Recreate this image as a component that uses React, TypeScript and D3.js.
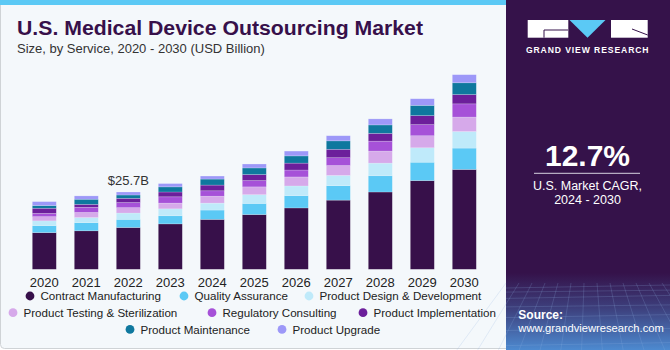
import React, { useEffect, useRef } from "react";
import * as d3 from "d3";

const years = ["2020", "2021", "2022", "2023", "2024", "2025", "2026", "2027", "2028", "2029", "2030"];
const contractManufacturing = [12.2, 12.8, 13.9, 15.1, 16.6, 18.2, 20.4, 23.0, 25.7, 29.5, 33.2];
const qualityAssurance = [2.3, 2.7, 2.7, 2.7, 3.1, 3.7, 4.1, 4.8, 5.4, 6.1, 7.1];
const productDesign = [1.6, 1.7, 2.1, 2.3, 2.3, 2.9, 3.2, 3.4, 4.2, 4.8, 5.5];
const productTesting = [1.4, 1.7, 1.8, 1.9, 2.3, 2.6, 3.0, 3.3, 4.0, 4.0, 4.8];
const regulatoryConsulting = [1.1, 1.7, 1.7, 2.1, 1.8, 2.1, 2.3, 2.6, 3.3, 3.7, 4.4];
const productImplementation = [1.7, 1.0, 1.4, 1.6, 1.9, 2.0, 2.3, 2.8, 2.6, 3.0, 3.1];
const productMaintenance = [0.9, 1.7, 1.1, 1.7, 2.0, 2.2, 2.4, 2.8, 2.8, 3.4, 3.9];
const productUpgrade = [1.3, 1.1, 1.0, 1.1, 1.0, 1.3, 1.6, 1.7, 2.0, 2.2, 2.7];

const seriesNames = [
  "Contract Manufacturing",
  "Quality Assurance",
  "Product Design & Development",
  "Product Testing & Sterilization",
  "Regulatory Consulting",
  "Product Implementation",
  "Product Maintenance",
  "Product Upgrade",
];
const seriesValues = [
  contractManufacturing,
  qualityAssurance,
  productDesign,
  productTesting,
  regulatoryConsulting,
  productImplementation,
  productMaintenance,
  productUpgrade,
];
const colors = ["#37104a", "#5bc9f5", "#bfeafa", "#d6a9ea", "#a651d8", "#6c1f9b", "#0f789e", "#9d98f8"];

const labelYear = "2022";
const labelText = "$25.7B";

// legend layout: [row, circle x]
const legendPos = [
  [0, 30], [0, 184], [0, 309],
  [1, 13], [1, 212], [1, 363],
  [2, 130], [2, 282],
];

const App = () => {
  const ref = useRef<SVGGElement>(null);

  useEffect(() => {
    const table = years.map((y, i) => {
      const row: any = { year: y };
      seriesNames.forEach((s, k) => (row[s] = seriesValues[k][i]));
      return row;
    });
    const stacked = d3.stack().keys(seriesNames)(table);

    const x = d3.scaleBand().domain(years).range([23.3, 485.3]).paddingInner(0.4286).paddingOuter(0.2143);
    const y = d3.scaleLinear().domain([0, 65]).range([269.3, 269.3 - 65 * 3.008]);

    const g = d3.select(ref.current);
    g.selectAll("*").remove();

    g.selectAll("g.series")
      .data(stacked)
      .join("g")
      .attr("class", "series")
      .attr("fill", (d, i) => colors[i])
      .selectAll("rect")
      .data((d) => d)
      .join("rect")
      .attr("x", (d: any) => x(d.data.year)!)
      .attr("width", x.bandwidth())
      .attr("y", (d) => y(d[1]))
      .attr("height", (d) => y(d[0]) - y(d[1]))
      .attr("stroke", "#f4f8fb")
      .attr("stroke-opacity", 0.35)
      .attr("stroke-width", 0.6);

    const axis = g.append("g").attr("transform", "translate(0,269.3)").call(d3.axisBottom(x).tickSize(0).tickPadding(8));
    axis.select(".domain").remove();
    axis.selectAll("text")
      .attr("font-family", "Liberation Sans, Arial, sans-serif")
      .attr("font-size", 13)
      .attr("fill", "#222");

    const li = years.indexOf(labelYear);
    const total = d3.sum(seriesValues, (s) => s[li]);
    g.append("text")
      .attr("x", x(labelYear)! + x.bandwidth() / 2)
      .attr("y", y(total) - 7)
      .attr("text-anchor", "middle")
      .attr("font-family", "Liberation Sans, Arial, sans-serif")
      .attr("font-size", 13)
      .attr("fill", "#333")
      .text(labelText);

    const legend = g.append("g");
    seriesNames.forEach((s, i) => {
      const [row, cx] = legendPos[i];
      const cy = 296 + row * 16.7;
      legend.append("circle").attr("cx", cx).attr("cy", cy).attr("r", 4.4).attr("fill", colors[i]);
      legend.append("text")
        .attr("x", cx + 10.5)
        .attr("y", cy + 4.2)
        .attr("font-family", "Liberation Sans, Arial, sans-serif")
        .attr("font-size", 11.6)
        .attr("fill", "#222")
        .text(s);
    });
  }, []);

  const gridLines = [];
  for (let i = 0; i < 14; i++) {
    const xx = 506 + i * 13;
    gridLines.push(<line key={"v" + i} x1={xx} y1={283} x2={506 + (xx - 588) * 1.6 + 82} y2={350} stroke="#8fb3e0" strokeOpacity={0.35} strokeWidth={0.6} />);
  }
  for (let j = 0; j < 8; j++) {
    const yy = 288 + j * j * 1.1 + j * 3;
    gridLines.push(<line key={"h" + j} x1={506} y1={yy} x2={670} y2={yy - 3 + (j % 2)} stroke="#8fb3e0" strokeOpacity={0.35} strokeWidth={0.6} />);
  }

  return (
    <svg width={670} height={350} style={{ position: "absolute", left: 0, top: 0, display: "block" }}>
      <defs>
        <linearGradient id="panelGrad" x1="0" y1="0" x2="0" y2="1">
          <stop offset="0" stopColor="#35124a" />
          <stop offset="0.78" stopColor="#35124a" />
          <stop offset="0.88" stopColor="#3d3f7c" />
          <stop offset="1" stopColor="#4d8ad0" />
        </linearGradient>
      </defs>
      <rect x={0.5} y={0.5} width={520} height={348} rx={4} fill="#f4f8fb" stroke="#cfd3d6" />
      <rect x={0} y={0} width={520} height={5} fill="#5bc9f5" />
      <text x={17} y={35} fontFamily="Liberation Sans, Arial, sans-serif" fontWeight="bold" fontSize={19.5} fill="#37104a" textLength={406} lengthAdjust="spacingAndGlyphs">
        U.S. Medical Device Outsourcing Market
      </text>
      <text x={17} y={53} fontFamily="Liberation Sans, Arial, sans-serif" fontSize={13} fill="#333">
        Size, by Service, 2020 - 2030 (USD Billion)
      </text>
      <g ref={ref} />

      <rect x={506} y={0} width={164} height={350} fill="url(#panelGrad)" />
      {gridLines}
      <rect x={527.7} y={20} width={40.6} height={17.7} fill="#fff" />
      <line x1={544} y1={30} x2={568} y2={30} stroke="#35124a" strokeWidth={1} />
      <line x1={544} y1={30} x2={544} y2={37.7} stroke="#35124a" strokeWidth={1} />
      <polygon points="569.5,20 605.5,20 587.5,37.7" fill="#5bc9f5" />
      <rect x={611} y={20} width={36.7} height={17.7} fill="#fff" />
      <line x1={632} y1={29} x2={647.7} y2={35} stroke="#35124a" strokeWidth={1} />
      <text x={587.7} y={53.3} textAnchor="middle" fontFamily="Liberation Sans, Arial, sans-serif" fontWeight="bold" fontSize={8.6} fill="#fff" letterSpacing={0.9}>
        GRAND VIEW RESEARCH
      </text>
      <text x={587.5} y={165.7} textAnchor="middle" fontFamily="Liberation Sans, Arial, sans-serif" fontWeight="bold" fontSize={30} fill="#fff">
        12.7%
      </text>
      <line x1={534} y1={173.3} x2={640} y2={173.3} stroke="#d8d2e0" strokeWidth={1} />
      <text x={587.5} y={190} textAnchor="middle" fontFamily="Liberation Sans, Arial, sans-serif" fontSize={12.5} fill="#fff">
        U.S. Market CAGR,
      </text>
      <text x={587.5} y={204} textAnchor="middle" fontFamily="Liberation Sans, Arial, sans-serif" fontSize={12.5} fill="#fff">
        2024 - 2030
      </text>
      <text x={518.3} y={319} fontFamily="Liberation Sans, Arial, sans-serif" fontWeight="bold" fontSize={12} fill="#fff">
        Source:
      </text>
      <text x={518.3} y={331.7} fontFamily="Liberation Sans, Arial, sans-serif" fontSize={11.2} fill="#fff">
        www.grandviewresearch.com
      </text>
    </svg>
  );
};

export default App;
